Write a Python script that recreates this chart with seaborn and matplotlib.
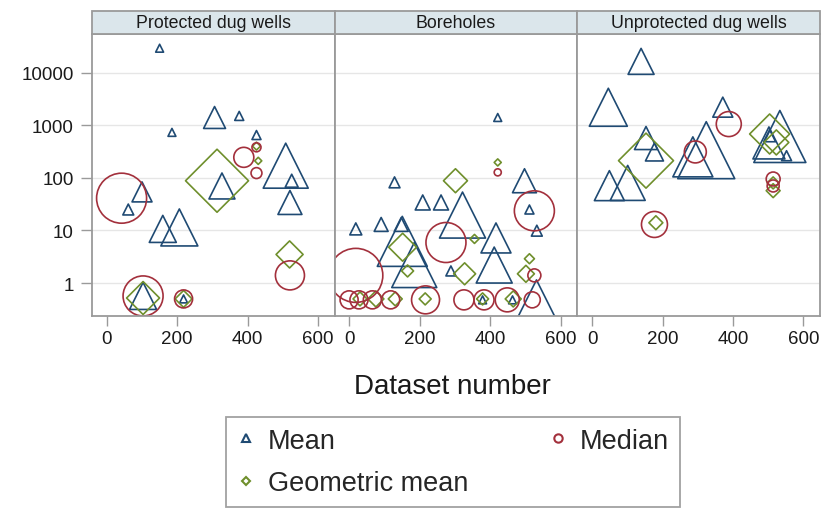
import matplotlib
matplotlib.use("Agg")
import numpy as np
import pandas as pd
import seaborn as sns
import matplotlib.pyplot as plt
from matplotlib.patches import Rectangle
from matplotlib.lines import Line2D
from matplotlib.ticker import FixedLocator, FixedFormatter, NullLocator

sources = ["Protected dug wells", "Boreholes", "Unprotected dug wells"]
statistics = ["Mean", "Geometric mean", "Median"]
x_ticks = [0, 200, 400, 600]
y_ticks = [1, 10, 100, 1000, 10000]
y_tick_labels = ["1", "10", "100", "1000", "10000"]

# Protected dug wells
pdw_mean_dataset = [150, 185, 306, 376, 425, 508, 525, 520, 327, 100, 61, 159, 206, 103, 218]
pdw_mean_value = [29000, 730, 1400, 1500, 650, 170, 88, 34, 70, 54, 25, 10.7, 11.4, 0.57, 0.5]
pdw_mean_n = [10, 10, 77, 13, 13, 324, 27, 92, 108, 64, 19, 117, 219, 117, 10]

pdw_gmean_dataset = [313, 519, 103, 218, 425, 430]
pdw_gmean_value = [88, 3.5, 0.52, 0.5, 400, 210]
pdw_gmean_n = [635, 117, 174, 46, 10, 8]

pdw_median_dataset = [42, 389, 425, 425, 520, 103, 218]
pdw_median_value = [41, 245, 123, 380, 1.4, 0.57, 0.5]
pdw_median_n = [400, 64, 19, 13, 135, 256, 52]

# Boreholes
bh_mean_dataset = [421, 497, 128, 208, 260, 90, 147, 18, 511, 532, 321, 416, 411, 150, 184, 288, 531, 378, 463]
bh_mean_value = [1400, 88, 82, 34, 34, 13, 13, 10.7, 25, 9.9, 19.6, 7.2, 2.2, 6.2, 2.2, 1.7, 0.5, 0.48, 0.48]
bh_mean_n = [10, 92, 19, 36, 36, 31, 31, 23, 13, 19, 339, 144, 207, 400, 324, 16, 231, 10, 10]

bh_gmean_dataset = [301, 151, 327, 355, 511, 501, 421, 165, 30, 75, 130, 215, 378, 465]
bh_gmean_value = [88, 4.8, 1.5, 6.9, 2.9, 1.5, 196, 1.7, 0.5, 0.5, 0.5, 0.5, 0.5, 0.5]
bh_gmean_n = [92, 125, 77, 13, 16, 46, 8, 23, 31, 41, 31, 23, 23, 41]

bh_median_dataset = [18, 274, 525, 421, 525, -1, 27, 65, 117, 216, 325, 382, 448, 519]
bh_median_value = [1.4, 5.9, 23.6, 127, 1.4, 0.48, 0.48, 0.48, 0.48, 0.48, 0.48, 0.48, 0.48, 0.48]
bh_median_n = [467, 256, 256, 8, 27, 52, 52, 52, 52, 125, 64, 64, 92, 41]

# Unprotected dug wells
udw_mean_dataset = [139, 46, 371, 153, 177, 49, 101, 286, 324, 533, 502, 552, 504]
udw_mean_value = [16300, 2190, 2200, 570, 310, 71, 80, 250, 335, 610, 460, 263, 630]
udw_mean_n = [108, 231, 64, 85, 52, 144, 196, 256, 520, 433, 164, 16, 23]

udw_gmean_dataset = [153, 504, 523, 514, 181, 514]
udw_gmean_value = [212, 680, 470, 57, 14, 80]
udw_gmean_n = [484, 256, 100, 31, 31, 23]

udw_median_dataset = [388, 293, 514, 514, 177]
udw_median_value = [1050, 310, 95, 70, 13]
udw_median_n = [100, 77, 31, 23, 108]

series = [
    (sources[0], "Mean", pdw_mean_dataset, pdw_mean_value, pdw_mean_n),
    (sources[0], "Geometric mean", pdw_gmean_dataset, pdw_gmean_value, pdw_gmean_n),
    (sources[0], "Median", pdw_median_dataset, pdw_median_value, pdw_median_n),
    (sources[1], "Mean", bh_mean_dataset, bh_mean_value, bh_mean_n),
    (sources[1], "Geometric mean", bh_gmean_dataset, bh_gmean_value, bh_gmean_n),
    (sources[1], "Median", bh_median_dataset, bh_median_value, bh_median_n),
    (sources[2], "Mean", udw_mean_dataset, udw_mean_value, udw_mean_n),
    (sources[2], "Geometric mean", udw_gmean_dataset, udw_gmean_value, udw_gmean_n),
    (sources[2], "Median", udw_median_dataset, udw_median_value, udw_median_n),
]
df = pd.concat(
    [pd.DataFrame({"source": src, "statistic": stat, "dataset": d, "value": v, "n": n})
     for src, stat, d, v, n in series],
    ignore_index=True,
)

colors = {"Mean": "#1f4a73", "Geometric mean": "#6f8f2c", "Median": "#a3303c"}
markers = {"Mean": "^", "Geometric mean": "D", "Median": "o"}
# 'D' markers are drawn ~1.41x wider than '^'/'o' at the same area
area_factor = {"Mean": 1.0, "Geometric mean": 0.5, "Median": 1.0}
N_MAX = 700
AREA_PER_N = 3.24

sns.set_theme(style="white")
plt.rcParams["font.family"] = ["Liberation Sans", "DejaVu Sans"]

W, H = 825, 510
g = sns.FacetGrid(df, col="source", col_order=sources, sharex=True, sharey=True,
                  height=4, aspect=0.7, despine=False)


def draw_stats(data, **kws):
    ax = plt.gca()
    for stat in statistics:
        sub = data[data["statistic"] == stat]
        sns.scatterplot(
            data=sub, x="dataset", y="value", size="n",
            sizes=(0, AREA_PER_N * N_MAX * area_factor[stat]), size_norm=(0, N_MAX),
            marker=markers[stat], color=colors[stat], facecolor="none",
            edgecolor=colors[stat], linewidth=1.2, legend=False, ax=ax,
        )


g.map_dataframe(draw_stats)

fig = g.figure
fig.set_size_inches(W / 100, H / 100)
fig.set_dpi(100)
left, right = 92 / W, 820 / W
bottom, top = 1 - 316.7 / H, 1 - 35 / H
fig.subplots_adjust(left=left, right=right, bottom=bottom, top=top, wspace=0)

axes_h_px = 316.7 - 35
strip_h = 23 / axes_h_px
spine_col = "#9a9a9a"

for i, (ax, src) in enumerate(zip(g.axes.flat, sources)):
    ax.set_yscale("log")
    ax.set_ylim(0.24, 54000)
    ax.set_xlim(-42, 647)
    ax.yaxis.set_major_locator(FixedLocator(y_ticks))
    ax.yaxis.set_major_formatter(FixedFormatter(y_tick_labels))
    ax.yaxis.set_minor_locator(NullLocator())
    ax.set_xticks(x_ticks)
    ax.set_xticklabels([str(t) for t in x_ticks])
    ax.set_axisbelow(True)
    ax.yaxis.grid(True, color="#e6e6e6", linewidth=1.0)
    ax.xaxis.grid(False)
    ax.set_facecolor("white")
    for sp in ax.spines.values():
        sp.set_color(spine_col)
        sp.set_linewidth(1.3)
        sp.set_visible(True)
    ax.tick_params(axis="x", direction="out", length=7, width=1, color=spine_col,
                   labelsize=13.5, labelcolor="#1a1a1a", pad=3, bottom=True)
    ax.tick_params(axis="y", direction="out", length=8, width=1, color=spine_col,
                   labelsize=13.5, labelcolor="#1a1a1a", pad=5, left=(i == 0),
                   labelleft=(i == 0))
    ax.set_xlabel("")
    ax.set_ylabel("")
    ax.set_title("")
    ax.add_patch(Rectangle((0, 1), 1, strip_h, transform=ax.transAxes, clip_on=False,
                           facecolor="#dbe6eb", edgecolor=spine_col, linewidth=1.3, zorder=5))
    ax.text(0.5, 1 + strip_h / 2, src, transform=ax.transAxes, ha="center", va="center",
            fontsize=12.8, color="#1a1a1a", zorder=6)

fig.text(452 / W, 1 - 387 / H, "Dataset number", ha="center", va="center",
         fontsize=20, color="#1a1a1a")

handles = [
    Line2D([], [], linestyle="none", marker=markers[s], markersize=6 if s != "Geometric mean" else 4.5,
           markerfacecolor="none", markeredgecolor=colors[s], markeredgewidth=1.5)
    for s in statistics
]
leg_top = 1 - 418 / H
leg = fig.legend(handles, statistics, ncol=2, loc="upper left",
                 bbox_to_anchor=(226 / W, leg_top - 0.2, (680 - 226) / W, 0.2),
                 mode="expand", frameon=True, fancybox=False, fontsize=19.5,
                 handlelength=0.7, handletextpad=0.45, borderpad=0.4, labelspacing=0.6,
                 borderaxespad=0)
leg.get_frame().set_edgecolor("#8a8a8a")
leg.get_frame().set_linewidth(1.3)

fig.savefig("out.png", dpi=100, facecolor="white")
